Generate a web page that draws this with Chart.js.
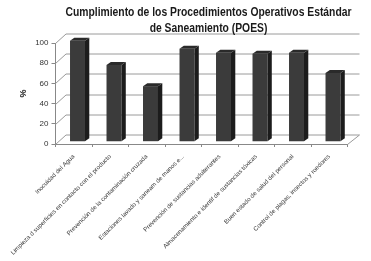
<!DOCTYPE html>
<html><head><meta charset="utf-8">
<script src="https://cdn.jsdelivr.net/npm/chart.js@4/dist/chart.umd.min.js"></script>
<style>html,body{margin:0;padding:0;background:#fff}#wrap{width:371px;height:261px;position:relative}</style>
</head><body><div id="wrap"><canvas id="c" width="371" height="261"></canvas></div>
<script>
const categories = [
  'Inocuidad del Agua',
  'Limpieza d superficies en contacto con el producto',
  'Prevención de la contaminación cruzada',
  'Estaciones lavado y saneam de manos e...',
  'Prevención de sustancias adulterantes',
  'Almacenamiento e identif de sustancias tóxicas',
  'Buen estado de salud del personal',
  'Control de plagas, insectos y roedores'
];
const values = [100, 76, 55, 92, 88, 87, 88, 68];
const yTicks = [0, 20, 40, 60, 80, 100];
const titleLines = ['Cumplimiento de los Procedimientos Operativos Estándar', 'de Saneamiento (POES)'];
const yAxisTitle = '%';

const WALL_DX = 10.5, WALL_DY = -9.5;   // depth offset of back wall
const BAR_DX = 3.75, BAR_DY = -2.3;     // bars sit a bit into the depth
const FACE_DX = 4.3, FACE_DY = -3;      // bar side/top depth
const GRID = '#9a9a9a';

const threeD = {
  id: 'threeD',
  beforeDatasetsDraw(chart) {
    const ctx = chart.ctx, a = chart.chartArea, ys = chart.scales.y;
    ctx.save();
    ctx.strokeStyle = GRID; ctx.lineWidth = 1;
    yTicks.forEach(v => {
      const y = Math.round(ys.getPixelForValue(v)) + 0.5;
      ctx.beginPath();
      ctx.moveTo(a.left, y);
      ctx.lineTo(a.left + WALL_DX, y + WALL_DY);
      ctx.lineTo(a.right + WALL_DX + 1.5, y + WALL_DY);
      ctx.stroke();
    });
    const yb = Math.round(ys.getPixelForValue(0)) + 0.5;
    ctx.beginPath();
    ctx.moveTo(a.right, yb);
    ctx.lineTo(a.right + WALL_DX + 1.5, yb + WALL_DY);
    ctx.stroke();
    ctx.restore();
    ctx.save();
    ctx.translate(BAR_DX, BAR_DY);
  },
  afterDatasetsDraw(chart) {
    const ctx = chart.ctx;
    const meta = chart.getDatasetMeta(0);
    meta.data.forEach(b => {
      const l = b.x - b.width / 2, r = b.x + b.width / 2, t = b.y, bot = b.base;
      ctx.fillStyle = '#1c1c1c';
      ctx.beginPath();
      ctx.moveTo(r, t); ctx.lineTo(r + FACE_DX, t + FACE_DY);
      ctx.lineTo(r + FACE_DX, bot + FACE_DY); ctx.lineTo(r, bot); ctx.closePath(); ctx.fill();
      ctx.fillStyle = '#2a2a2a';
      ctx.beginPath();
      ctx.moveTo(l, t); ctx.lineTo(l + FACE_DX, t + FACE_DY);
      ctx.lineTo(r + FACE_DX, t + FACE_DY); ctx.lineTo(r, t); ctx.closePath(); ctx.fill();
    });
    ctx.restore();
  },
  afterDraw(chart) {
    const ctx = chart.ctx;
    ctx.save();
    ctx.fillStyle = '#1a1a1a';
    ctx.font = 'bold 12.5px "Liberation Sans", Arial, sans-serif';
    ctx.textAlign = 'center'; ctx.textBaseline = 'middle';
    const w = ctx.measureText(titleLines[0]).width;
    const sx = 286 / w;
    ctx.translate(208.5, 0);
    ctx.scale(sx, 1);
    ctx.fillText(titleLines[0], 0, 12.5);
    ctx.fillText(titleLines[1], 0, 28.5);
    ctx.restore();
  }
};

new Chart(document.getElementById('c'), {
  type: 'bar',
  data: {
    labels: categories,
    datasets: [{
      data: values,
      backgroundColor: '#3b3b3b',
      borderWidth: 0,
      categoryPercentage: 1,
      barPercentage: 0.41,
      clip: false
    }]
  },
  options: {
    responsive: false,
    animation: false,
    devicePixelRatio: 1,
    layout: { padding: { top: 43, right: 23.5, left: 0, bottom: 0 } },
    plugins: { legend: { display: false }, tooltip: { enabled: false }, title: { display: false } },
    scales: {
      x: {
        ticks: { minRotation: 45, maxRotation: 45, autoSkip: false, color: '#3a3a3a',
                 font: { family: '"Liberation Sans", Arial, sans-serif', size: 6.2 }, padding: 6 },
        grid: { drawOnChartArea: false, tickLength: 3, color: '#888', offset: true },
        border: { color: '#888' },
        afterFit(s) { s.height = 117; }
      },
      y: {
        min: 0, max: 100,
        afterBuildTicks(s) { s.ticks = yTicks.map(v => ({ value: v })); },
        ticks: { color: '#333', font: { family: '"Liberation Sans", Arial, sans-serif', size: 8 }, padding: 3 },
        grid: { drawOnChartArea: false, tickLength: 4, color: '#888' },
        border: { color: '#888' },
        title: { display: true, text: yAxisTitle, color: '#222',
                 font: { family: '"Liberation Sans", Arial, sans-serif', size: 9, weight: 'bold' },
                 padding: { top: 18.6, bottom: 0 } },
        afterFit(s) { s.width = 55.5; }
      }
    }
  },
  plugins: [threeD]
});
</script>
</body></html>
